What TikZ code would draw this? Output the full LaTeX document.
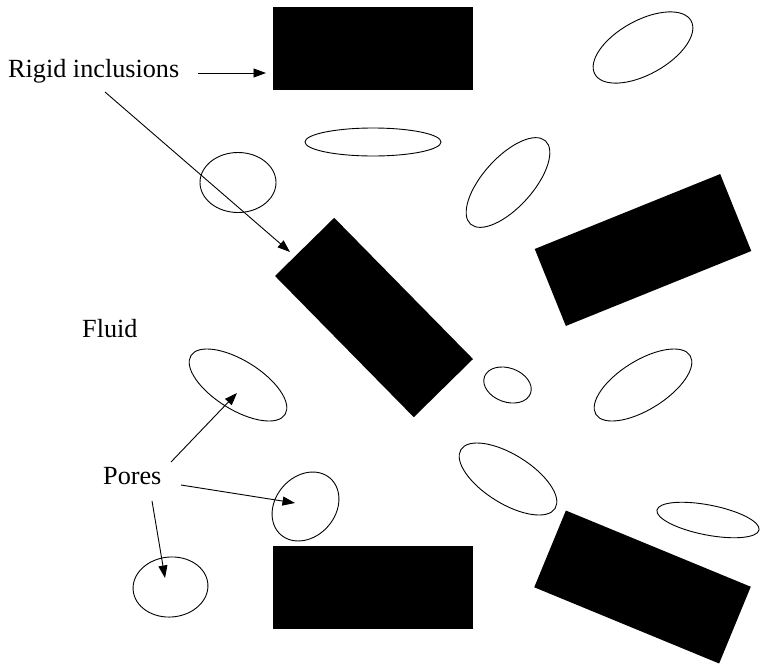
\documentclass[tikz,border=0pt]{standalone}
\usepackage{fontspec}
\setmainfont{Liberation Serif}
\usetikzlibrary{shapes.geometric,arrows.meta}
\begin{document}
\begin{tikzpicture}[x=1pt,y=-1pt,
  incl/.style={rectangle,fill=black,draw=none,inner sep=0pt,outer sep=0pt,minimum width=200pt,minimum height=83pt},
  pore/.style={ellipse,draw=black,line width=0.9pt,inner sep=0pt,outer sep=0pt},
  lbl/.style={anchor=base west,inner sep=0pt,font=\fontsize{26.2}{30}\selectfont},
  arr/.style={line width=0.9pt,-{Triangle[length=12.5pt,width=9pt]}}]
\useasboundingbox (0,0) rectangle (760,664);
% rigid inclusions
\node[incl] (r1) at (373,48) {};
\node[incl,rotate=-45.5,minimum width=198pt] (r2) at (374,317.5) {};
\node[incl,rotate=22] (r3) at (643,250) {};
\node[incl] (r4) at (373,587.5) {};
\node[incl,rotate=-22.4] (r5) at (642.5,587) {};
% pores
\node[pore,minimum width=110pt,minimum height=54pt,rotate=29] (pA) at (643,47.5) {};
\node[pore,minimum width=136pt,minimum height=28pt] (pB) at (373,142) {};
\node[pore,minimum width=76pt,minimum height=60pt] (pC) at (238,182.5) {};
\node[pore,minimum width=112pt,minimum height=50pt,rotate=48] (pD) at (508,182.5) {};
\node[pore,minimum width=111pt,minimum height=49pt,rotate=-32] (pE) at (238,385) {};
\node[pore,minimum width=75pt,minimum height=60pt,rotate=49] (pF) at (305.5,506.5) {};
\node[pore,minimum width=75pt,minimum height=60pt,rotate=5] (pG) at (170.5,587) {};
\node[pore,minimum width=49pt,minimum height=34pt,rotate=-20] (pH) at (507.5,385) {};
\node[pore,minimum width=111pt,minimum height=49pt,rotate=32] (pI) at (643,385) {};
\node[pore,minimum width=111pt,minimum height=49pt,rotate=-32] (pJ) at (508,479) {};
\node[pore,minimum width=104pt,minimum height=30pt,rotate=-11] (pK) at (708,520) {};
% labels
\node[lbl] (tRigid) at (8,77) {Rigid inclusions};
\node[lbl] (tFluid) at (82,337) {Fluid};
\node[lbl] (tPores) at (103,484) {Pores};
% arrow ends
\coordinate (a1s) at (198,73);
\coordinate (a1e) at (266,73);
\coordinate (a2s) at (105,92);
\coordinate (a2e) at (290,252);
\coordinate (a3s) at (171,462);
\coordinate (a3e) at (237,393);
\coordinate (a4s) at (181,485);
\coordinate (a4e) at (295,503);
\coordinate (a5s) at (152,501);
\coordinate (a5e) at (165,578);
\draw[arr] (a1s) -- (a1e);
\draw[arr] (a2s) -- (a2e);
\draw[arr] (a3s) -- (a3e);
\draw[arr] (a4s) -- (a4e);
\draw[arr] (a5s) -- (a5e);
\end{tikzpicture}
\end{document}
